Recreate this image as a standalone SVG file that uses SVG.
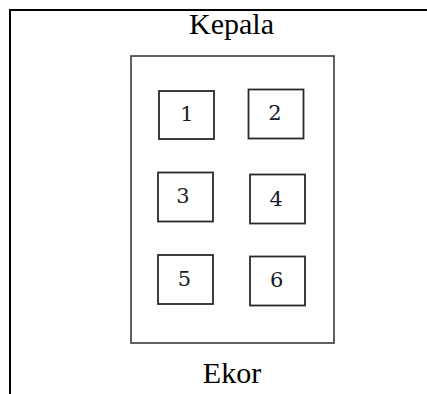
<svg xmlns="http://www.w3.org/2000/svg" width="427" height="394" viewBox="0 0 427 394">
<style>
.frame{stroke:#000;stroke-width:2;fill:none}
.body{fill:none;stroke:#3a3a3a;stroke-width:1.6}
.cell{fill:#fff;stroke:#2a2a2a;stroke-width:1.8}
.lbl{font-family:"Liberation Serif","Times New Roman",serif;font-size:30px;fill:#000;text-anchor:middle}
.num{font-family:"DejaVu Serif",serif;font-size:21px;fill:#1a1a2a;text-anchor:middle}
</style>
<rect width="427" height="394" fill="#fff"/>
<g id="frame">
<line class="frame" x1="9" y1="10" x2="427" y2="10"/>
<line class="frame" x1="10" y1="9" x2="10" y2="394"/>
</g>
<text class="lbl" x="231.5" y="33.5">Kepala</text>
<g id="body"><rect class="body" x="131" y="56" width="203" height="287"/></g>
<g id="n1"><rect class="cell" x="159" y="91" width="55" height="48"/><text class="num" x="187" y="120.5">1</text></g>
<g id="n2"><rect class="cell" x="248.5" y="89.5" width="55" height="49"/><text class="num" x="275" y="119.5">2</text></g>
<g id="n3"><rect class="cell" x="158" y="172.5" width="55" height="49"/><text class="num" x="183" y="203">3</text></g>
<g id="n4"><rect class="cell" x="250" y="174.5" width="55" height="49"/><text class="num" x="276.3" y="205.5">4</text></g>
<g id="n5"><rect class="cell" x="158" y="255" width="55" height="49"/><text class="num" x="184.5" y="285.5">5</text></g>
<g id="n6"><rect class="cell" x="250" y="256.5" width="55" height="49"/><text class="num" x="276.7" y="287">6</text></g>
<g id="connectors"></g>
<text class="lbl" x="232" y="382.7">Ekor</text>
</svg>
